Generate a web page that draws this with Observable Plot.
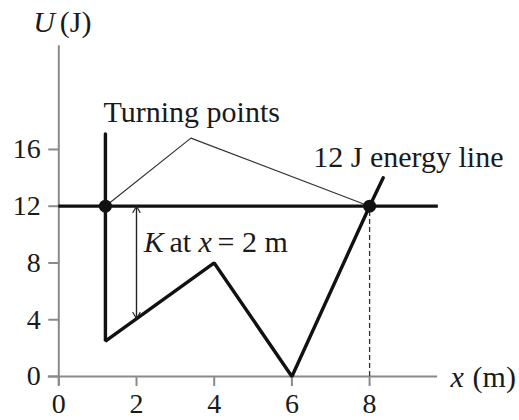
<!DOCTYPE html>
<html>
<head>
<meta charset="utf-8">
<script src="https://cdn.jsdelivr.net/npm/d3@7"></script>
<script src="https://cdn.jsdelivr.net/npm/@observablehq/plot@0.6"></script>
<style>
  html, body { margin: 0; padding: 0; background: #fff; }
</style>
</head>
<body>
<div id="chart"></div>
<script>
// Potential energy U(x) of a particle, with the 12 J total-energy line
const wellX = [1.2, 1.2, 4, 6, 8, 8.35];
const wellU = [17.1, 2.5, 8, 0, 12, 14];
const leaderX = [1.2, 3.4, 8];
const leaderU = [12, 16.8, 12];
const turningX = [1.2, 8];
const energyU = 12;
const energyRange = [0, 9.77];
const kAtX = 2;
const xTicks = [0, 2, 4, 6, 8];
const uTicks = [0, 4, 8, 12, 16];

const well = wellX.map((x, i) => ({x, u: wellU[i]}));
const leader = leaderX.map((x, i) => ({x, u: leaderU[i]}));
const turning = turningX.map(x => ({x, u: energyU}));

// U at x = 2 m, read along the sloped segment of the curve
function uAt(x) {
  for (let i = 0; i < wellX.length - 1; i++) {
    const x0 = wellX[i], x1 = wellX[i + 1];
    if (x1 > x0 && x >= x0 && x <= x1) {
      return wellU[i] + (wellU[i + 1] - wellU[i]) * (x - x0) / (x1 - x0);
    }
  }
  return 0;
}
const kLow = uAt(kAtX);

const font = "'Liberation Serif', 'Times New Roman', serif";
const ink = "#1a1a1a";
const axisGrey = "#8a8a8a";
const fs = 30;

// one run of text, anchored at its left end with its baseline at y
const label = (s, x, y, italic = false) =>
  Plot.text([s], {x, y, text: d => d, textAnchor: "start", lineAnchor: "bottom",
    fontSize: fs, fontStyle: italic ? "italic" : "normal", fill: ink});

const chart = Plot.plot({
  width: 519,
  height: 420,
  marginLeft: 58.3,
  marginRight: 72.2,
  marginTop: 92.2,
  marginBottom: 44,
  x: {domain: [0, 10]},
  y: {domain: [0, 20]},
  style: {fontFamily: font, fontSize: "28px", background: "#fff", overflow: "visible"},
  marks: [
    // axis lines
    Plot.ruleY([0], {x1: -0.27, x2: 9.75, stroke: axisGrey, strokeWidth: 2}),
    Plot.ruleX([0], {y1: -0.63, y2: 23.3, stroke: axisGrey, strokeWidth: 2}),
    Plot.axisX({ticks: xTicks, tickSize: 10, tickPadding: 7, stroke: axisGrey, strokeWidth: 2, fill: ink, fontSize: 28, label: null}),
    Plot.axisY({ticks: uTicks, tickSize: 10, tickPadding: 8, stroke: axisGrey, strokeWidth: 2, fill: ink, fontSize: 28, label: null}),
    // dashed drop from the right turning point
    Plot.ruleX([turningX[1]], {y1: 0, y2: energyU, stroke: "#333", strokeWidth: 1.3, strokeDasharray: "5,3"}),
    // total energy line
    Plot.ruleY([energyU], {x1: energyRange[0], x2: energyRange[1], stroke: "#111", strokeWidth: 3.2}),
    // leader lines to the turning points
    Plot.line(leader, {x: "x", y: "u", stroke: "#333", strokeWidth: 1.2}),
    // potential energy curve
    Plot.line(well, {x: "x", y: "u", stroke: "#111", strokeWidth: 3.4, strokeLinejoin: "miter"}),
    // turning points
    Plot.dot(turning, {x: "x", y: "u", r: 6.5, fill: "#111", stroke: null}),
    // kinetic energy at x = 2 m (double-headed arrow)
    Plot.arrow([{x: kAtX, a: energyU, b: kLow}], {x1: "x", x2: "x", y1: "a", y2: "b", stroke: "#222", strokeWidth: 1.2, headLength: 9, bend: 0}),
    Plot.arrow([{x: kAtX, a: energyU, b: kLow}], {x1: "x", x2: "x", y1: "b", y2: "a", stroke: "#222", strokeWidth: 1.2, headLength: 9, bend: 0}),
    // labels
    label("U", -0.66, 24.26, true),
    label("(J)", 0.026, 24.26),
    label("Turning points", 1.15, 17.9),
    label("12 J energy line", 6.55, 14.73),
    label("K", 2.188, 8.76, true),
    label("at", 2.85, 8.76),
    label("x", 3.596, 8.76, true),
    label("= 2 m", 4.085, 8.76),
    label("x", 10.08, -0.754, true),
    label("(m)", 10.65, -0.754)
  ]
});

document.getElementById("chart").appendChild(chart);
</script>
</body>
</html>
